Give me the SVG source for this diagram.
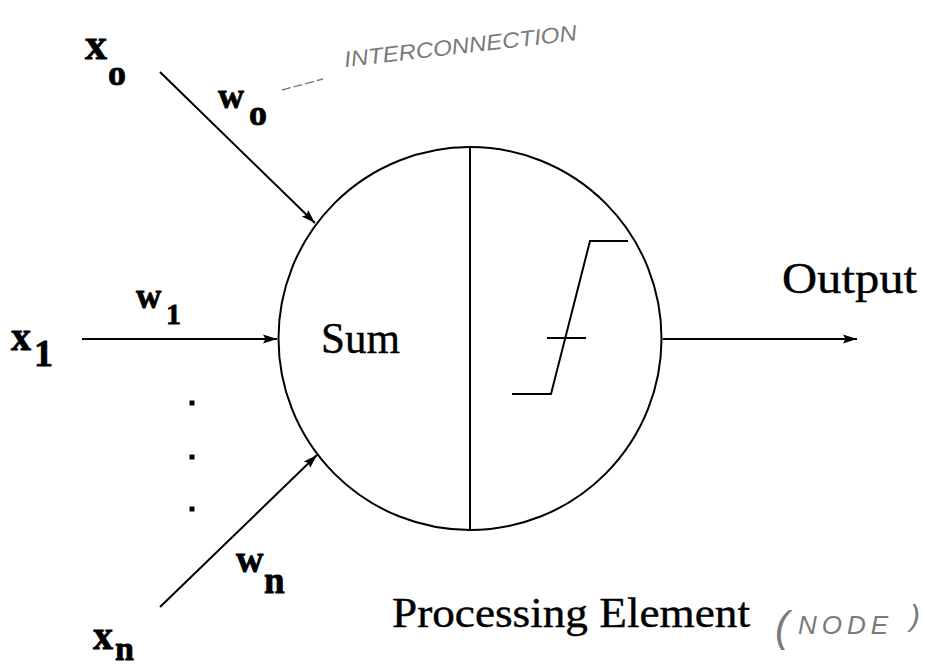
<svg xmlns="http://www.w3.org/2000/svg" width="925" height="669" viewBox="0 0 925 669">
<style>
.ln{stroke:#000;stroke-width:2;fill:none}
.lbl{font-family:"Liberation Serif","Times New Roman",serif;font-weight:bold;fill:#000;stroke:#000;stroke-width:0.8}
.ser{font-family:"Liberation Serif","Times New Roman",serif;fill:#000;stroke:#000;stroke-width:0.4}
.hand{font-family:"Liberation Sans",Arial,sans-serif;font-style:italic;fill:#7a7a7a}
</style>
<defs>
<marker id="ah" markerUnits="userSpaceOnUse" markerWidth="15" markerHeight="11" refX="14" refY="5.5" orient="auto">
<path d="M0,1 L14,5.5 L0,10 L2.5,5.5 Z" fill="#000"/>
</marker>
</defs>
<rect width="925" height="669" fill="#fff"/>

<g id="connectors">
<line class="ln" x1="160" y1="72" x2="315" y2="223" marker-end="url(#ah)"/>
<line class="ln" x1="82" y1="339" x2="277" y2="339" marker-end="url(#ah)"/>
<line class="ln" x1="160" y1="607" x2="317" y2="455" marker-end="url(#ah)"/>
<line class="ln" x1="663" y1="339" x2="857" y2="339" marker-end="url(#ah)"/>
<line x1="282" y1="90" x2="323" y2="79" stroke="#777" stroke-width="1.3" stroke-dasharray="9,3"/>
</g>

<g id="node-pe">
<circle class="ln" cx="470" cy="338.5" r="191.5"/>
<line class="ln" x1="470" y1="147" x2="470" y2="530"/>
<polyline class="ln" points="512,394 551,394 590,241 628,241"/>
<line class="ln" x1="547" y1="338" x2="586" y2="338"/>
<text class="ser" x="321" y="353" font-size="45" textLength="79" lengthAdjust="spacingAndGlyphs">Sum</text>
</g>

<g id="input-x0">
<text class="lbl" x="85" y="59" font-size="44">x</text>
<text class="lbl" x="108" y="85" font-size="36">o</text>
</g>
<g id="weight-w0">
<text class="lbl" x="218" y="108" font-size="36">w</text>
<text class="lbl" x="249" y="125" font-size="36">o</text>
</g>
<g id="input-x1">
<text class="lbl" x="11" y="350" font-size="40">x</text>
<text class="lbl" x="34" y="366" font-size="38">1</text>
</g>
<g id="weight-w1">
<text class="lbl" x="136" y="308" font-size="35">w</text>
<text class="lbl" x="166" y="324" font-size="30">1</text>
</g>
<g id="dots">
<rect x="189.5" y="400.5" width="5" height="5" fill="#000"/>
<rect x="189.5" y="454.5" width="5" height="5" fill="#000"/>
<rect x="189.5" y="506.5" width="5" height="5" fill="#000"/>
</g>
<g id="input-xn">
<text class="lbl" x="93" y="649" font-size="40">x</text>
<text class="lbl" x="115" y="660" font-size="34">n</text>
</g>
<g id="weight-wn">
<text class="lbl" x="236" y="572" font-size="38">w</text>
<text class="lbl" x="264" y="593" font-size="37">n</text>
</g>

<g id="output-label">
<text class="ser" x="782" y="293" font-size="45" textLength="135" lengthAdjust="spacingAndGlyphs">Output</text>
</g>

<g id="pe-label">
<text class="ser" x="392" y="627" font-size="42" textLength="358" lengthAdjust="spacingAndGlyphs">Processing Element</text>
<text class="hand" x="775" y="641" font-size="42" font-style="normal" fill="#8a8a8a">(</text>
<text class="hand" x="798" y="634" font-size="26" letter-spacing="5">NODE</text>
<text class="hand" x="910" y="626" font-size="30" font-style="normal" fill="#8a8a8a">)</text>
</g>

<g id="annotation">
<text class="hand" x="345" y="67" font-size="22" textLength="234" lengthAdjust="spacingAndGlyphs" transform="rotate(-6.6 345 67)">INTERCONNECTION</text>
</g>
</svg>
